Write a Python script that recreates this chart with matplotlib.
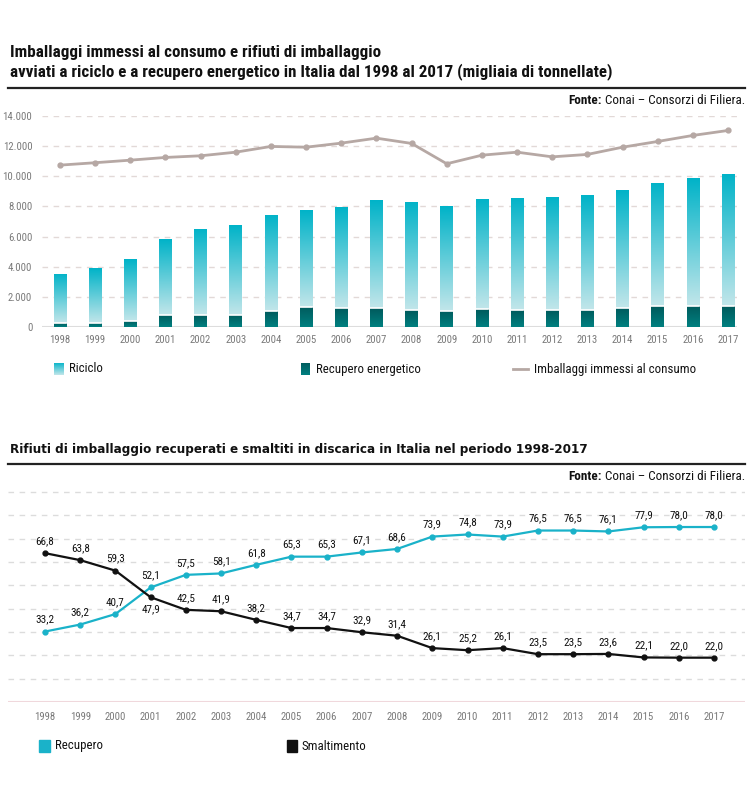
import os
import numpy as np
import matplotlib
matplotlib.use("Agg")
import matplotlib.pyplot as plt
from matplotlib import font_manager
from matplotlib.font_manager import FontProperties
from matplotlib.patches import Rectangle
from matplotlib.lines import Line2D
from matplotlib.colors import LinearSegmentedColormap

years = [str(y) for y in range(1998, 2018)]
totale_avviato = [3540, 3890, 4490, 5830, 6520, 6790, 7450, 7780, 7960, 8400,
                  8310, 8000, 8510, 8580, 8640, 8730, 9060, 9570, 9880, 10170]
recupero_energetico = [250, 290, 400, 820, 770, 820, 1060, 1350, 1280, 1260,
                       1100, 1080, 1170, 1100, 1100, 1130, 1280, 1370, 1410, 1370]
riciclo = [t - r for t, r in zip(totale_avviato, recupero_energetico)]
immessi = [10740, 10900, 11070, 11250, 11360, 11600, 11980, 11930, 12200, 12530,
           12180, 10830, 11400, 11600, 11290, 11450, 11930, 12310, 12710, 13040]
top_yticks = [0, 2000, 4000, 6000, 8000, 10000, 12000, 14000]
top_ylabels = ["0", "2.000", "4.000", "6.000", "8.000", "10.000", "12.000", "14.000"]

recupero_pct = [33.2, 36.2, 40.7, 52.1, 57.5, 58.1, 61.8, 65.3, 65.3, 67.1,
                68.6, 73.9, 74.8, 73.9, 76.5, 76.5, 76.1, 77.9, 78.0, 78.0]
smaltimento_pct = [66.8, 63.8, 59.3, 47.9, 42.5, 41.9, 38.2, 34.7, 34.7, 32.9,
                   31.4, 26.1, 25.2, 26.1, 23.5, 23.5, 23.6, 22.1, 22.0, 22.0]

# ---------- font selection (condensed if available) ----------
paths = sorted({f.fname for f in font_manager.fontManager.ttflist})
BAD_REG = ["bold", "italic", "light", "thin", "black", "medium", "extra", "oblique", "heavy"]


def find_font(bold):
    patterns = ["robotocondensed", "roboto_condensed", "opensans_condensed", "opensans-condensed",
                "opensanscondensed", "notosans-condensed", "notosanscondensed",
                "liberationsansnarrow", "liberationsans-narrow", "dejavusanscondensed",
                "opensans_semicondensed", "opensans-semicondensed", "notosans-semicondensed"]
    for p in patterns:
        for path in paths:
            b = os.path.basename(path).lower().replace(" ", "")
            if p not in b:
                continue
            if bold:
                if "bold" in b and "italic" not in b and "extra" not in b and "semibold" not in b \
                        and "oblique" not in b:
                    return path
            else:
                if not any(k in b for k in BAD_REG):
                    return path
    return None


reg_path = find_font(False)
bold_path = find_font(True)
FP_REG = FontProperties(fname=reg_path) if reg_path else FontProperties(family="DejaVu Sans")
FP_BOLD = FontProperties(fname=bold_path) if bold_path else FontProperties(family="DejaVu Sans",
                                                                          weight="bold")
FP_WBOLD = FontProperties(family="DejaVu Sans", weight="bold")

W, H = 750, 807
fig = plt.figure(figsize=(W / 100, H / 100), dpi=100)
fig.patch.set_facecolor("white")
renderer = fig.canvas.get_renderer()


def fx(px):
    return px / W


def fy(py):
    return 1 - py / H


def add_ax(x0, y0, x1, y1):
    return fig.add_axes([fx(x0), fy(y1), fx(x1) - fx(x0), (y1 - y0) / H])


def size_for(text, fp, target_px, base=10.0):
    t = fig.text(0, 0, text, fontproperties=fp, fontsize=base)
    w = t.get_window_extent(renderer=renderer).width
    t.remove()
    return base * target_px / w


CYAN = "#1ab2c9"
GRID = "#e2d9d7"
TICKC = "#7a7a7a"
TXT = "#111111"

TICK_FS = size_for("1998", FP_REG, 21)
VAL_FS = size_for("66,8", FP_REG, 18.5)

# ---------------- Titles top ----------------
T1_FS = size_for("avviati a riciclo e a recupero energetico in Italia dal 1998 al 2017 (migliaia di tonnellate)",
                 FP_BOLD, 602)
fig.text(fx(10), fy(52), "Imballaggi immessi al consumo e rifiuti di imballaggio",
         fontproperties=FP_BOLD, fontsize=T1_FS, ha="left", va="center", color=TXT)
fig.text(fx(10), fy(72), "avviati a riciclo e a recupero energetico in Italia dal 1998 al 2017 (migliaia di tonnellate)",
         fontproperties=FP_BOLD, fontsize=T1_FS, ha="left", va="center", color=TXT)
fig.add_artist(Line2D([fx(8), fx(745)], [fy(88), fy(88)], color="#222222", lw=1.6))


def fonte(ypx):
    fs = size_for("Fonte: Conai – Consorzi di Filiera.", FP_REG, 174)
    t = fig.text(fx(745), fy(ypx), " Conai – Consorzi di Filiera.", fontproperties=FP_REG,
                 fontsize=fs, ha="right", va="center", color=TXT)
    bb = t.get_window_extent(renderer=renderer)
    fig.text(bb.x0 / fig.bbox.width, fy(ypx), "Fonte:", fontproperties=FP_BOLD, fontsize=fs,
             ha="right", va="center", color=TXT)


fonte(101)

# ---------------- Top chart ----------------
ax1 = add_ax(42, 116, 737, 327)
x = np.arange(len(years))
sc = 35.16
for v in top_yticks[1:]:
    ax1.axhline(v, color=GRID, lw=1.0, ls=(0, (4, 4)), zorder=0)
ax1.axhline(0, color="#dddddd", lw=1.5, zorder=1)
for s in ax1.spines.values():
    s.set_visible(False)
ax1.set_yticks(top_yticks)
ax1.set_yticklabels(top_ylabels)
ax1.set_xticks(x)
ax1.set_xticklabels(years)
ax1.tick_params(length=0, colors=TICKC, pad=6)
ax1.tick_params(axis="y", pad=7)
for lab in ax1.get_xticklabels() + ax1.get_yticklabels():
    lab.set_fontproperties(FP_REG)
    lab.set_fontsize(TICK_FS)
    lab.set_color(TICKC)

cm_ric = LinearSegmentedColormap.from_list("ric", ["#c2e6ea", "#00b3c8"])
cm_rec = LinearSegmentedColormap.from_list("rec", ["#008080", "#005a5c"])
grad = np.linspace(0, 1, 256).reshape(-1, 1)
bw = 0.36
bars_rec = ax1.bar(x, recupero_energetico, width=bw, color="none", edgecolor="none", zorder=2)
bars_ric = ax1.bar(x, riciclo, width=bw, bottom=recupero_energetico, color="none",
                   edgecolor="none", zorder=2)
for b in bars_rec:
    x0, y0, w, h = b.get_x(), b.get_y(), b.get_width(), b.get_height()
    im = ax1.imshow(grad, cmap=cm_rec, aspect="auto", origin="lower",
                    extent=[x0, x0 + w, y0, y0 + h], zorder=2)
    im.set_clip_path(b)
for b in bars_ric:
    x0, y0, w, h = b.get_x(), b.get_y(), b.get_width(), b.get_height()
    im = ax1.imshow(grad, cmap=cm_ric, aspect="auto", origin="lower",
                    extent=[x0, x0 + w, y0, y0 + h], zorder=2)
    im.set_clip_path(b)
    ax1.plot([x0, x0 + w], [y0, y0], color="white", lw=1.2, zorder=3)
ax1.set_xlim(-18 / sc, 19 + 9 / sc)
ax1.set_ylim(0, 14000)
ax1.plot(x, immessi, color="#b6a8a4", lw=2, marker="o", ms=3.5, zorder=4)

# legend top
lg = np.linspace(0, 1, 64).reshape(-1, 1)
ax_l1 = add_ax(54, 363, 63, 375)
ax_l1.imshow(lg, cmap=cm_ric, aspect="auto", origin="lower")
ax_l1.axis("off")
ax_l2 = add_ax(301, 363, 310, 375)
ax_l2.imshow(lg, cmap=cm_rec, aspect="auto", origin="lower")
ax_l2.axis("off")
fig.add_artist(Line2D([fx(513), fx(528)], [fy(369), fy(369)], color="#b6a8a4", lw=2))
LEG_FS = size_for("Imballaggi immessi al consumo", FP_REG, 160)
fig.text(fx(69), fy(369), "Riciclo", fontproperties=FP_REG, fontsize=LEG_FS, va="center",
         ha="left", color=TXT)
fig.text(fx(316), fy(369), "Recupero energetico", fontproperties=FP_REG, fontsize=LEG_FS,
         va="center", ha="left", color=TXT)
fig.text(fx(534), fy(369), "Imballaggi immessi al consumo", fontproperties=FP_REG, fontsize=LEG_FS,
         va="center", ha="left", color=TXT)

# ---------------- Bottom chart ----------------
T2_FS = size_for("Rifiuti di imballaggio recuperati e smaltiti in discarica in Italia nel periodo 1998-2017",
                 FP_WBOLD, 578)
fig.text(fx(10), fy(449), "Rifiuti di imballaggio recuperati e smaltiti in discarica in Italia nel periodo 1998-2017",
         fontproperties=FP_WBOLD, fontsize=T2_FS, ha="left", va="center", color=TXT)
fig.add_artist(Line2D([fx(8), fx(745)], [fy(464), fy(464)], color="#222222", lw=1.6))
fonte(477)

ylo, yhi = 3, 95
pxu = 2.333
ax2 = add_ax(8, 702 - (yhi - ylo) * pxu, 745, 702)
sc2 = 35.2
for v in np.arange(13, 94, 10):
    ax2.axhline(v, color="#dcdcdc", lw=1.0, ls=(0, (4, 4)), zorder=0)
ax2.axhline(ylo, color="#f0d8dc", lw=1.5, zorder=1)
for s in ax2.spines.values():
    s.set_visible(False)
ax2.set_yticks([])
ax2.set_xticks(x)
ax2.set_xticklabels(years)
ax2.tick_params(length=0, colors=TICKC, pad=7)
for lab in ax2.get_xticklabels():
    lab.set_fontproperties(FP_REG)
    lab.set_fontsize(TICK_FS)
    lab.set_color(TICKC)

ax2.plot(x, recupero_pct, color=CYAN, lw=1.6, marker="o", ms=3.5, zorder=3)
ax2.plot(x, smaltimento_pct, color="#111111", lw=1.6, marker="o", ms=3.5, zorder=3)
ax2.set_xlim(-37 / sc2, 19 + 31 / sc2)
ax2.set_ylim(ylo, yhi)


def fmt(v):
    return f"{v:.1f}".replace(".", ",")


for i in x:
    ax2.annotate(fmt(recupero_pct[i]), (i, recupero_pct[i]), xytext=(0, 5),
                 textcoords="offset points", ha="center", va="bottom", fontproperties=FP_REG,
                 fontsize=VAL_FS, color=TXT)
    off = -5 if i == 3 else 5
    ax2.annotate(fmt(smaltimento_pct[i]), (i, smaltimento_pct[i]), xytext=(0, off),
                 textcoords="offset points", ha="center",
                 va="bottom" if off > 0 else "top", fontproperties=FP_REG, fontsize=VAL_FS,
                 color=TXT)

fig.add_artist(Rectangle((fx(39), fy(752)), fx(11), 12 / H, color=CYAN))
fig.add_artist(Rectangle((fx(287), fy(752)), fx(10), 12 / H, color="#111111"))
fig.text(fx(55), fy(746), "Recupero", fontproperties=FP_REG, fontsize=LEG_FS, va="center",
         ha="left", color=TXT)
fig.text(fx(302), fy(746), "Smaltimento", fontproperties=FP_REG, fontsize=LEG_FS, va="center",
         ha="left", color=TXT)

fig.savefig("out.png", dpi=100, facecolor="white")
